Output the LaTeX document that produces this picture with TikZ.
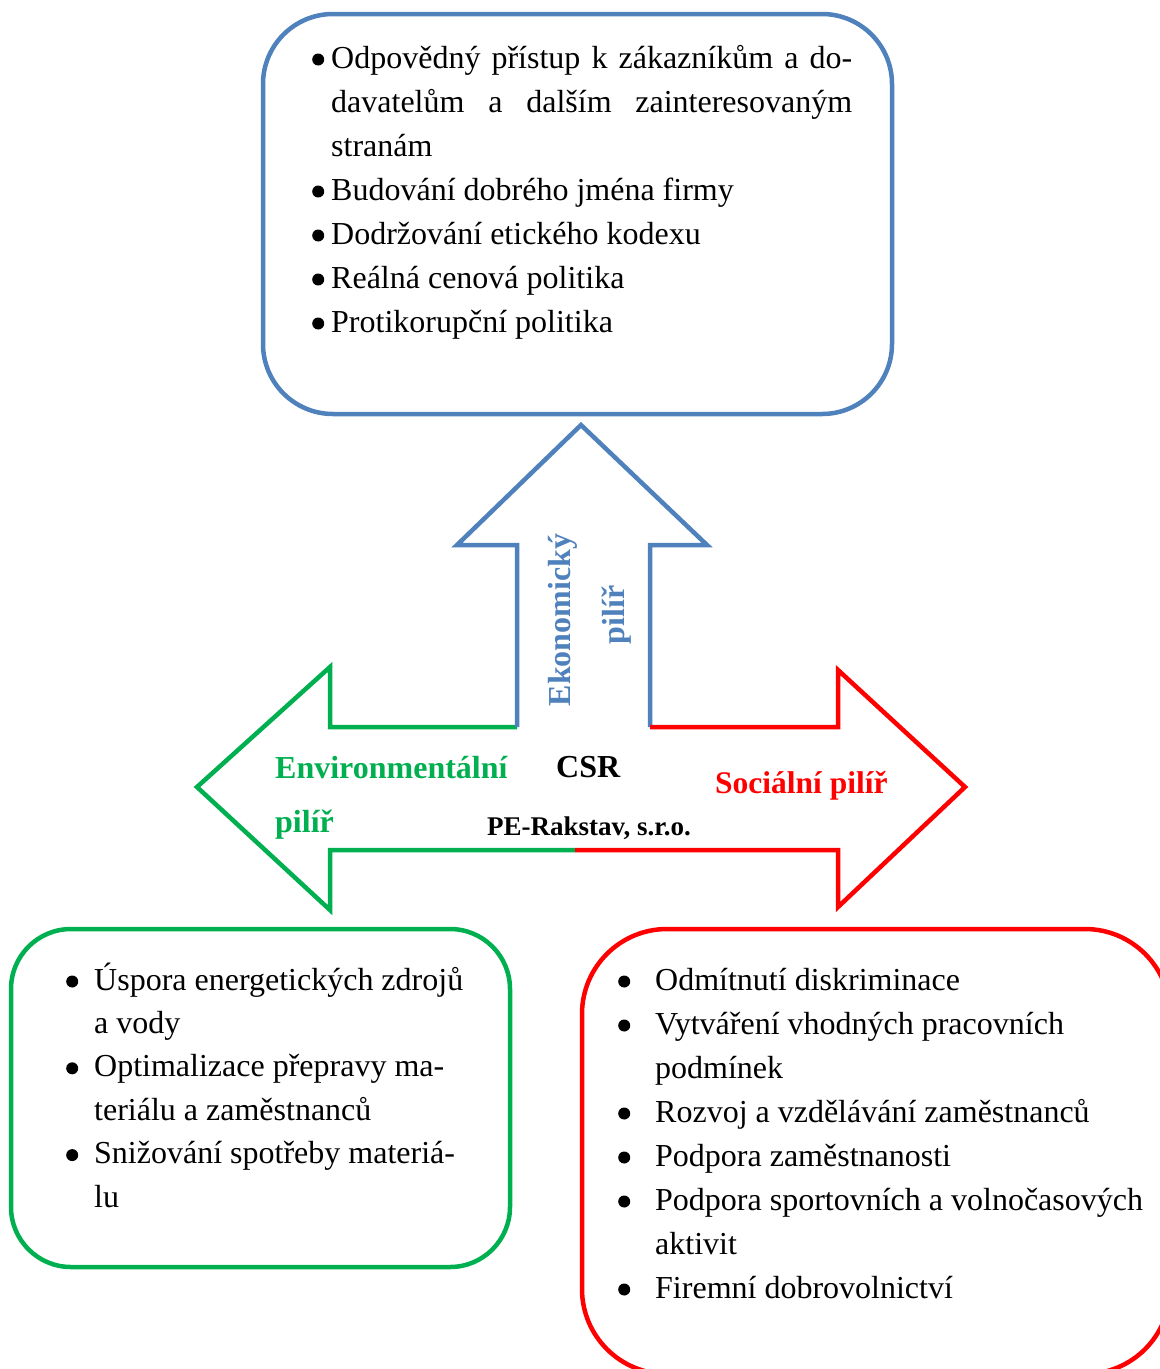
\documentclass[tikz,border=0pt]{standalone}
\usepackage{fontspec}
\setmainfont{Liberation Serif}
\definecolor{ecoblue}{HTML}{4F81BD}
\definecolor{envgreen}{HTML}{00B050}
\definecolor{socred}{HTML}{FF0000}
\newcommand{\blt}{\tikz[x=1pt,y=1pt,baseline=0pt]{\fill[black] (0,8.5) circle (6);}}
\begin{document}
\begin{tikzpicture}[x=1pt,y=-1pt,
  pillarbox/.style={draw, line width=4.5pt, rounded corners=#1, inner sep=0pt, minimum width=0pt},
  arrowline/.style={line width=4.5pt, line join=miter, line cap=butt},
  bodytext/.style={inner sep=0pt, anchor=base west},
  lbl/.style={inner sep=0pt, font=\bfseries\fontsize{32}{38}\selectfont}]
\useasboundingbox (0,0) rectangle (1160,1369);
\fill[white] (0,0) rectangle (1160,1369);

% boxes
\draw[pillarbox=70pt, ecoblue] (263,14) rectangle (892,414);
\draw[pillarbox=60pt, envgreen] (11,929) rectangle (510,1267);
\draw[pillarbox=85pt, socred] (582,929) rectangle (1170,1374);

% arrow coordinates
\coordinate (jl) at (517,727);
\coordinate (jr) at (650,727);
\coordinate (jb) at (575,850);

% green (left) arrow
\draw[arrowline, envgreen] (jl) -- (330,727) -- (330,667) -- (197,787) -- (330,910) -- (330,850) -- (jb);
% blue (up) arrow
\draw[arrowline, ecoblue] (jl) -- (517,545) -- (457,545) -- (581,425) -- (707,545) -- (650,545) -- (jr);
% red (right) arrow
\draw[arrowline, socred] (jr) -- (838,727) -- (838,670) -- (965,787) -- (838,907) -- (838,850) -- (jb);

% labels
\node[lbl, text=ecoblue, rotate=90, anchor=base] (eko1) at (570,620) {Ekonomický};
\node[lbl, text=ecoblue, rotate=90, anchor=base] (eko2) at (624,615) {pilíř};
\node[lbl, text=envgreen, anchor=base west] (env1) at (275,778) {Environmentální};
\node[lbl, text=envgreen, anchor=base west] (env2) at (275,832) {pilíř};
\node[lbl, anchor=base west] (csr) at (556,777) {CSR};
\node[lbl, anchor=base west, font=\bfseries\fontsize{27}{31}\selectfont] (firm) at (487,835) {PE-Rakstav, s.r.o.};
\node[lbl, text=socred, anchor=base west, font=\bfseries\fontsize{31.5}{36}\selectfont] (soc) at (715,793) {Sociální pilíř};

% top box text
\node[bodytext, font=\fontsize{32}{44}\selectfont] (ecotext) at (312,68) {%
\begin{tabular}[t]{@{}l@{}l@{}}
\makebox[19pt][l]{\blt} & \makebox[521pt][s]{Odpovědný přístup k zákazníkům a do-}\\
 & \makebox[521pt][s]{davatelům a dalším zainteresovaným}\\
 & stranám\\
\makebox[19pt][l]{\blt} & Budování dobrého jména firmy\\
\makebox[19pt][l]{\blt} & Dodržování etického kodexu\\
\makebox[19pt][l]{\blt} & Reálná cenová politika\\
\makebox[19pt][l]{\blt} & Protikorupční politika
\end{tabular}};

% green box text
\node[bodytext, font=\fontsize{32}{43.4}\selectfont] (envtext) at (66,990) {%
\begin{tabular}[t]{@{}l@{}l@{}}
\makebox[28pt][l]{\blt} & Úspora energetických zdrojů\\
 & a vody\\
\makebox[28pt][l]{\blt} & Optimalizace přepravy ma-\\
 & teriálu a zaměstnanců\\
\makebox[28pt][l]{\blt} & Snižování spotřeby materiá-\\
 & lu
\end{tabular}};

% red box text
\node[bodytext, font=\fontsize{32}{44}\selectfont] (soctext) at (618,990) {%
\begin{tabular}[t]{@{}l@{}l@{}}
\makebox[37pt][l]{\blt} & Odmítnutí diskriminace\\
\makebox[37pt][l]{\blt} & Vytváření vhodných pracovních\\
 & podmínek\\
\makebox[37pt][l]{\blt} & Rozvoj a vzdělávání zaměstnanců\\
\makebox[37pt][l]{\blt} & Podpora zaměstnanosti\\
\makebox[37pt][l]{\blt} & Podpora sportovních a volnočasových\\
 & aktivit\\
\makebox[37pt][l]{\blt} & Firemní dobrovolnictví
\end{tabular}};
\end{tikzpicture}
\end{document}
